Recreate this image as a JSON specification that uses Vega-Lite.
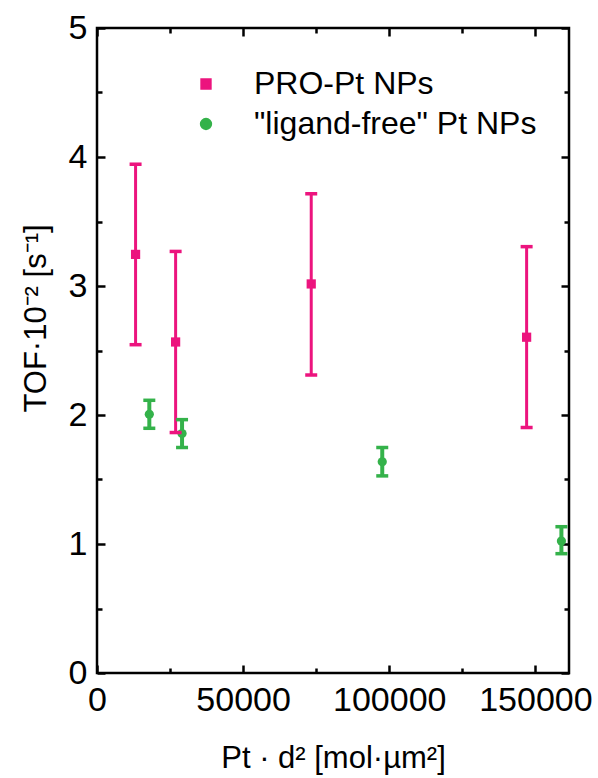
{
  "$schema": "https://vega.github.io/schema/vega-lite/v6.json",
  "autosize": "none",
  "width": 472,
  "height": 645,
  "padding": {"left": 97, "top": 28, "right": 29, "bottom": 105},
  "background": "white",
  "config": {
    "view": {"stroke": "black", "strokeWidth": 2.5},
    "font": "Liberation Sans",
    "axis": {
      "labelFont": "Liberation Sans",
      "labelFontSize": 34,
      "labelColor": "black",
      "titleFont": "Liberation Sans",
      "titleFontSize": 31,
      "titleFontWeight": "normal",
      "titleColor": "black",
      "tickColor": "black",
      "tickWidth": 2.5,
      "domain": false,
      "grid": false
    },
    "legend": {
      "labelFont": "Liberation Sans",
      "labelFontSize": 32,
      "labelColor": "black",
      "labelLimit": 500
    }
  },
  "data": {
    "values": [
      {"series": "PRO-Pt NPs", "x": 13200, "y": 3.245, "lo": 2.545, "hi": 3.944},
      {"series": "PRO-Pt NPs", "x": 26900, "y": 2.566, "lo": 1.864, "hi": 3.268},
      {"series": "PRO-Pt NPs", "x": 73300, "y": 3.016, "lo": 2.31, "hi": 3.715},
      {"series": "PRO-Pt NPs", "x": 147000, "y": 2.603, "lo": 1.903, "hi": 3.305},
      {"series": "\"ligand-free\" Pt NPs", "x": 17900, "y": 2.005, "lo": 1.897, "hi": 2.114},
      {"series": "\"ligand-free\" Pt NPs", "x": 29100, "y": 1.856, "lo": 1.748, "hi": 1.964},
      {"series": "\"ligand-free\" Pt NPs", "x": 97600, "y": 1.637, "lo": 1.528, "hi": 1.748},
      {"series": "\"ligand-free\" Pt NPs", "x": 158900, "y": 1.023, "lo": 0.925, "hi": 1.134}
    ]
  },
  "layer": [
    {
      "mark": {"type": "point", "filled": true, "opacity": 1, "size": 85},
      "encoding": {
        "x": {
          "field": "x", "type": "quantitative",
          "scale": {"domain": [0, 161500], "nice": false, "zero": false},
          "axis": {
            "orient": "bottom",
            "values": [0, 25000, 50000, 75000, 100000, 125000, 150000],
            "labelExpr": "datum.value % 50000 === 0 ? format(datum.value, 'd') : ''",
            "tickSize": {"condition": {"test": "datum.value % 50000 === 0", "value": -8}, "value": -5},
            "labelPadding": 45,
            "labelBaseline": "alphabetic",
            "labelFlush": false,
            "labelOverlap": false,
            "title": "Pt · d² [mol·µm²]",
            "titleY": 94,
            "titleBaseline": "alphabetic",
            "titleAlign": "center"
          }
        },
        "y": {
          "field": "y", "type": "quantitative",
          "scale": {"domain": [0, 5], "nice": false, "zero": false},
          "axis": {
            "orient": "left",
            "values": [0, 0.5, 1, 1.5, 2, 2.5, 3, 3.5, 4, 4.5, 5],
            "labelExpr": "datum.value % 1 === 0 ? format(datum.value, 'd') : ''",
            "tickSize": {"condition": {"test": "datum.value % 1 === 0", "value": -8}, "value": -5},
            "labelPadding": 18,
            "labelFlush": false,
            "labelOverlap": false,
            "title": "TOF·10⁻² [s⁻¹]",
            "titleX": -52,
            "titleY": 290,
            "titleAngle": 270,
            "titleBaseline": "alphabetic",
            "titleAlign": "center"
          }
        },
        "color": {
          "field": "series", "type": "nominal",
          "scale": {"domain": ["PRO-Pt NPs", "\"ligand-free\" Pt NPs"], "range": ["#ec147e", "#34b24a"]},
          "legend": {
            "title": null,
            "orient": "none",
            "legendX": 93,
            "legendY": 40,
            "padding": 0,
            "symbolSize": 70,
            "labelOffset": 32,
            "rowPadding": 8,
            "symbolStrokeWidth": 0
          }
        },
        "shape": {
          "field": "series", "type": "nominal",
          "scale": {"domain": ["PRO-Pt NPs", "\"ligand-free\" Pt NPs"], "range": ["square", "circle"]},
          "legend": {
            "title": null,
            "orient": "none",
            "legendX": 93,
            "legendY": 40,
            "padding": 0,
            "symbolSize": 70,
            "labelOffset": 32,
            "rowPadding": 8,
            "symbolStrokeWidth": 0
          }
        }
      }
    },
    {
      "mark": {"type": "rule"},
      "encoding": {
        "x": {
          "field": "x", "type": "quantitative",
          "axis": {
            "orient": "top",
            "values": [0, 25000, 50000, 75000, 100000, 125000, 150000],
            "labels": false,
            "tickSize": {"condition": {"test": "datum.value % 50000 === 0", "value": -8}, "value": -5},
            "title": null
          }
        },
        "y": {
          "field": "lo", "type": "quantitative",
          "axis": {
            "orient": "right",
            "values": [0, 0.5, 1, 1.5, 2, 2.5, 3, 3.5, 4, 4.5, 5],
            "labels": false,
            "tickSize": {"condition": {"test": "datum.value % 1 === 0", "value": -8}, "value": -5},
            "title": null
          }
        },
        "y2": {"field": "hi"},
        "color": {"field": "series", "type": "nominal", "legend": null},
        "strokeWidth": {
          "field": "series", "type": "nominal",
          "scale": {"domain": ["PRO-Pt NPs", "\"ligand-free\" Pt NPs"], "range": [3, 4]},
          "legend": null
        }
      }
    },
    {
      "mark": {"type": "tick", "orient": "horizontal", "size": 12, "thickness": 3.5, "opacity": 1},
      "encoding": {
        "x": {"field": "x", "type": "quantitative", "axis": null},
        "y": {"field": "lo", "type": "quantitative", "axis": null},
        "color": {"field": "series", "type": "nominal", "legend": null}
      }
    },
    {
      "mark": {"type": "tick", "orient": "horizontal", "size": 12, "thickness": 3.5, "opacity": 1},
      "encoding": {
        "x": {"field": "x", "type": "quantitative", "axis": null},
        "y": {"field": "hi", "type": "quantitative", "axis": null},
        "color": {"field": "series", "type": "nominal", "legend": null}
      }
    }
  ]
}
